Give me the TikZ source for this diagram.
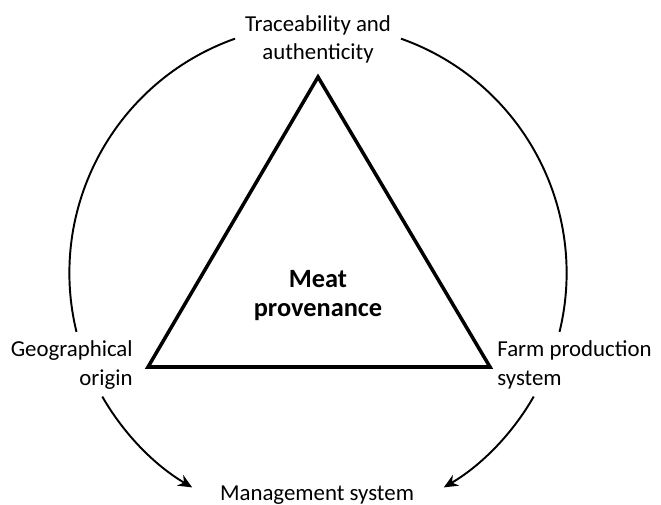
\documentclass[tikz,border=0pt]{standalone}
\usepackage{fontspec}
\setmainfont{Carlito}
\usetikzlibrary{arrows.meta}

\begin{document}
\begin{tikzpicture}[x=0.02cm, y=0.02cm, font=\fontsize{13pt}{16pt}\selectfont,
    txt/.style={inner sep=0pt},
    ring/.style={line width=1.1pt},
    ringarrow/.style={ring, -{Stealth[length=8pt, width=7pt]}},
    tri/.style={line width=2pt, line join=miter}]
    \useasboundingbox (0, 0) rectangle (661, 504);
    \def\R{248.6}
    \coordinate (c) at (318, 231);

    \node[txt, align=center, anchor=base] (trace) at (318, 444) {Traceability and\\authenticity};
    \node[txt, align=right, anchor=base east] (geo) at (133, 119) {Geographical\\origin};
    \node[txt, align=left, anchor=base west] (farm) at (497, 119) {Farm production\\system};
    \node[txt, anchor=base] (mgmt) at (317, 4) {Management system};
    \node[txt, align=center, anchor=base, font=\fontsize{15pt}{16pt}\selectfont\bfseries] (meat) at (318, 188) {Meat\\provenance};

    \coordinate (apex) at (318, 427);
    \coordinate (bl) at (148, 137);
    \coordinate (br) at (490, 137);
    \draw[tri] (apex) -- (bl) -- (br) -- cycle;

    \draw[ring] ([shift={(109.5:\R)}]c) arc[start angle=109.5, end angle=193.7, radius=\R];
    \draw[ring] ([shift={(70.5:\R)}]c) arc[start angle=70.5, end angle=-13.7, radius=\R];
    \draw[ringarrow] ([shift={(209.8:\R)}]c) arc[start angle=209.8, end angle=239.6, radius=\R];
    \draw[ringarrow] ([shift={(-29.8:\R)}]c) arc[start angle=-29.8, end angle=-59.6, radius=\R];
\end{tikzpicture}
\end{document}
